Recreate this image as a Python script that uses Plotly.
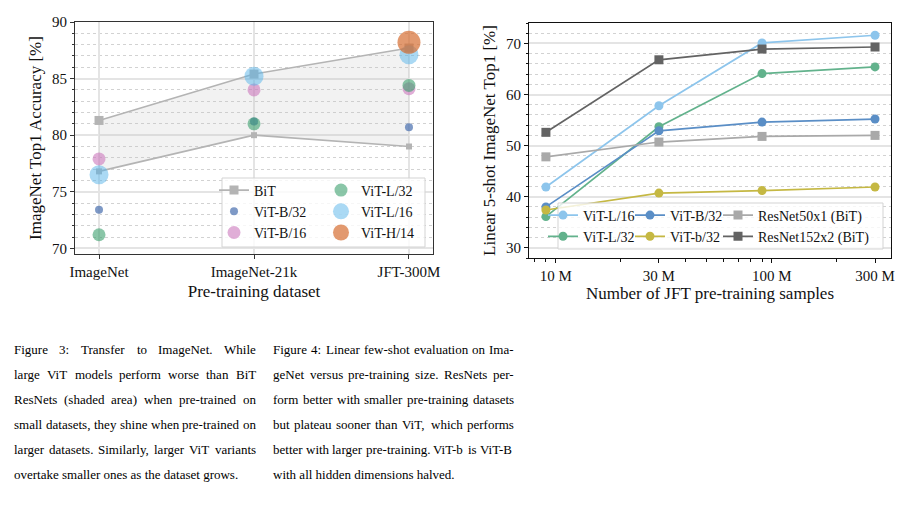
import plotly.graph_objects as go

# ---------------- Figure 3 data ----------------
datasets = ["ImageNet", "ImageNet-21k", "JFT-300M"]
bit_upper = [81.3, 85.4, 87.7]
bit_lower = [76.8, 80.0, 79.0]
vit_b32 = [73.4, 81.2, 80.7]
vit_b16 = [77.9, 84.0, 84.1]
vit_l32 = [71.2, 81.0, 84.4]
vit_l16 = [76.5, 85.2, 87.1]
h14_datasets = ["JFT-300M"]
vit_h14 = [88.2]
fig3_yticks = [70, 75, 80, 85, 90]

# ---------------- Figure 4 data ----------------
samples = [9e6, 30e6, 90e6, 300e6]
fs_vit_l16 = [41.9, 57.8, 70.1, 71.6]
fs_vit_l32 = [36.1, 53.7, 64.1, 65.4]
fs_vit_b32 = [38.0, 52.9, 54.6, 55.2]
fs_vit_b32_small = [37.4, 40.7, 41.2, 41.9]
fs_resnet50x1 = [47.8, 50.7, 51.8, 52.0]
fs_resnet152x2 = [52.6, 66.8, 68.9, 69.3]
fig4_xtick_vals = [1e7, 3e7, 1e8, 3e8]
fig4_xtick_text = ["10 M", "30 M", "100 M", "300 M"]
fig4_xminor = [8e6, 9e6, 2e7, 4e7, 5e7, 6e7, 7e7, 8e7, 9e7, 2e8]
fig4_yticks = [30, 40, 50, 60, 70]

caption3 = [
    "Figure 3:  Transfer to ImageNet.  While",
    "large ViT models perform worse than BiT",
    "ResNets (shaded area) when pre-trained on",
    "small datasets, they shine when pre-trained on",
    "larger datasets.  Similarly, larger ViT variants",
    "overtake smaller ones as the dataset grows.",
]
caption4 = [
    "Figure 4: Linear few-shot evaluation on Ima-",
    "geNet versus pre-training size.  ResNets per-",
    "form better with smaller pre-training datasets",
    "but plateau sooner than ViT, which performs",
    "better with larger pre-training. ViT-b is ViT-B",
    "with all hidden dimensions halved.",
]

W, H = 916, 507
OFF = 8  # page body margin in the browser
SERIF = "Liberation Serif, Times New Roman, serif"


def px(x):
    return (x - OFF) / W


def py(y):
    return 1 - (y - OFF) / H


fig = go.Figure()

# ---- left chart ----
fig.add_trace(go.Scatter(x=datasets, y=bit_lower, mode="lines", line=dict(width=0),
                         showlegend=False, hoverinfo="skip"))
fig.add_trace(go.Scatter(x=datasets, y=bit_upper, mode="lines", line=dict(width=0),
                         fill="tonexty", fillcolor="rgba(190,190,190,0.2)",
                         showlegend=False, hoverinfo="skip"))
bit_col = "#B4B4B4"
fig.add_trace(go.Scatter(x=datasets, y=bit_upper, mode="lines+markers", name="BiT",
                         line=dict(color=bit_col, width=1.6),
                         marker=dict(symbol="square", size=9, color=bit_col),
                         legend="legend"))
fig.add_trace(go.Scatter(x=datasets, y=bit_lower, mode="lines+markers", name="BiT",
                         line=dict(color=bit_col, width=1.6),
                         marker=dict(symbol="square", size=6, color=bit_col),
                         showlegend=False))

left_specs = [
    ("ViT-B/32", datasets, vit_b32, "rgba(76,114,176,0.72)", 8, "legend"),
    ("ViT-B/16", datasets, vit_b16, "rgba(204,120,188,0.6)", 13, "legend"),
    ("ViT-L/32", datasets, vit_l32, "rgba(60,160,110,0.6)", 13, "legend2"),
    ("ViT-L/16", datasets, vit_l16, "rgba(86,180,233,0.5)", 19, "legend2"),
    ("ViT-H/14", h14_datasets, vit_h14, "rgba(213,110,50,0.7)", 23, "legend2"),
]
for name, xs, ys, col, size, lg in left_specs:
    fig.add_trace(go.Scatter(x=xs, y=ys, mode="markers", name=name,
                             marker=dict(color=col, size=size, line=dict(width=0)),
                             legend=lg))

# ---- right chart ----
right_specs = [
    ("ViT-L/16", fs_vit_l16, "#8DC5EC", "circle", "legend3"),
    ("ViT-L/32", fs_vit_l32, "#62B28C", "circle", "legend3"),
    ("ViT-B/32", fs_vit_b32, "#5A8EC6", "circle", "legend4"),
    ("ViT-b/32", fs_vit_b32_small, "#C5B843", "circle", "legend4"),
    ("ResNet50x1 (BiT)", fs_resnet50x1, "#A9A9A9", "square", "legend5"),
    ("ResNet152x2 (BiT)", fs_resnet152x2, "#636363", "square", "legend5"),
]
for name, ys, col, sym, lg in right_specs:
    fig.add_trace(go.Scatter(x=samples, y=ys, mode="lines+markers", name=name,
                             line=dict(color=col, width=1.7),
                             marker=dict(symbol=sym, size=9, color=col),
                             xaxis="x2", yaxis="y2", legend=lg))

grid_major = "#E4E4E4"
grid_minor = "#D2D2D2"
tickfont = dict(family=SERIF, size=15, color="#111")
titlefont = dict(family=SERIF, size=17, color="#111")

fig.update_layout(
    template="none",
    width=W, height=H,
    margin=dict(l=0, r=0, t=0, b=0, pad=0, autoexpand=False),
    paper_bgcolor="white", plot_bgcolor="white",
    font=dict(family=SERIF, size=15, color="#111"),
    hovermode=False,
    xaxis=dict(domain=[px(75), px(433)], anchor="y", type="category", automargin=False,
               range=[-0.155, 2.155], showgrid=True, gridcolor=grid_major, gridwidth=1.5,
               showline=True, mirror=True, linecolor="#333", linewidth=1.2,
               ticks="outside", ticklen=4, tickcolor="#333", tickfont=tickfont,
               title=dict(text="Pre-training dataset", font=titlefont, standoff=6),
               zeroline=False),
    yaxis=dict(domain=[py(254), py(22)], anchor="x", range=[69.5, 90], automargin=False,
               tickvals=fig3_yticks, showgrid=True, gridcolor=grid_major, gridwidth=1.5,
               minor=dict(tick0=70, dtick=1, showgrid=True, gridcolor=grid_minor,
                          griddash="dot", gridwidth=1, ticks="outside", ticklen=2,
                          tickcolor="#333"),
               showline=True, mirror=True, linecolor="#333", linewidth=1.2,
               ticks="outside", ticklen=4, tickcolor="#333", tickfont=tickfont,
               title=dict(text="ImageNet Top1 Accuracy [%]", font=titlefont, standoff=5),
               zeroline=False),
    xaxis2=dict(domain=[px(529), px(891)], anchor="y2", type="log", automargin=False,
                range=[6.876, 8.551], tickvals=fig4_xtick_vals, ticktext=fig4_xtick_text,
                showgrid=False,
                minor=dict(tickvals=fig4_xminor, ticks="outside", ticklen=2.5,
                           tickcolor="#111", showgrid=False),
                showline=True, mirror=True, linecolor="#111", linewidth=1.2,
                ticks="outside", ticklen=4, tickcolor="#111", tickfont=tickfont,
                title=dict(text="Number of JFT pre-training samples", font=titlefont,
                           standoff=2),
                zeroline=False),
    yaxis2=dict(domain=[py(258), py(23)], anchor="x2", range=[28, 74], automargin=False,
                tickvals=fig4_yticks, showgrid=True, gridcolor=grid_major, gridwidth=1.5,
                minor=dict(tick0=0, dtick=2, showgrid=True, gridcolor=grid_minor,
                           griddash="dot", gridwidth=1, ticks="outside", ticklen=2,
                           tickcolor="#111"),
                showline=True, mirror=True, linecolor="#111", linewidth=1.2,
                ticks="outside", ticklen=4, tickcolor="#111", tickfont=tickfont,
                title=dict(text="Linear 5-shot ImageNet Top1 [%]", font=titlefont,
                           standoff=5),
                zeroline=False),
)

leg_common = dict(xanchor="left", yanchor="top", bgcolor="rgba(0,0,0,0)",
                  borderwidth=0, font=dict(family=SERIF, size=14, color="#111"),
                  itemwidth=30, tracegroupgap=0, orientation="v", traceorder="normal")
fig.update_layout(
    legend=dict(x=px(214), y=py(174.5), **leg_common),
    legend2=dict(x=px(321), y=py(174.5), **leg_common),
    legend3=dict(x=px(543), y=py(199.5), **leg_common),
    legend4=dict(x=px(630), y=py(199.5), **leg_common),
    legend5=dict(x=px(718), y=py(199.5), **leg_common),
)

# legend frames (matplotlib-style translucent boxes)
fig.add_shape(type="rect", xref="paper", yref="paper", x0=px(222), x1=px(425),
              y0=py(247), y1=py(178), line=dict(color="#D3D3D3", width=1),
              fillcolor="rgba(255,255,255,0.8)", layer="above")
fig.add_shape(type="rect", xref="paper", yref="paper", x0=px(558), x1=px(883),
              y0=py(249), y1=py(203), line=dict(color="#D3D3D3", width=1),
              fillcolor="rgba(255,255,255,0.8)", layer="above")
# scrollbar-like artifact at right edge
fig.add_shape(type="rect", xref="paper", yref="paper", x0=px(912), x1=px(917),
              y0=py(68), y1=py(48), line=dict(width=0), fillcolor="#7A7A7A",
              layer="above")

# ---------------- captions (justified, Times metrics) ----------------
TIMES = {' ': 250, 'a': 444, 'b': 500, 'c': 444, 'd': 500, 'e': 444, 'f': 333, 'g': 500,
         'h': 500, 'i': 278, 'j': 278, 'k': 500, 'l': 278, 'm': 778, 'n': 500, 'o': 500,
         'p': 500, 'q': 500, 'r': 333, 's': 389, 't': 278, 'u': 500, 'v': 500, 'w': 722,
         'x': 500, 'y': 500, 'z': 444, 'A': 722, 'B': 667, 'C': 667, 'D': 722, 'E': 611,
         'F': 556, 'G': 722, 'H': 722, 'I': 333, 'J': 389, 'K': 722, 'L': 611, 'M': 889,
         'N': 722, 'O': 722, 'P': 556, 'Q': 722, 'R': 667, 'S': 556, 'T': 611, 'U': 722,
         'V': 722, 'W': 944, 'X': 722, 'Y': 722, 'Z': 611, '.': 250, ',': 250, ':': 278,
         '-': 333, '(': 333, ')': 333, '/': 278}


def text_width(s, size):
    return sum(TIMES.get(ch, 500) for ch in s) * size / 1000.0


CAP_SIZE = 13


def add_caption(lines, x0, x1, y0, dy):
    for i, line in enumerate(lines):
        y = y0 + i * dy
        common = dict(xref="paper", yref="paper", y=py(y), xanchor="left",
                      yanchor="middle", showarrow=False, borderpad=0, borderwidth=0,
                      font=dict(family=SERIF, size=CAP_SIZE, color="#000"))
        if i == len(lines) - 1:
            fig.add_annotation(text=line, x=px(x0), **common)
            continue
        words = line.split()
        widths = [text_width(w, CAP_SIZE) for w in words]
        gap = (x1 - x0 - sum(widths)) / (len(words) - 1)
        x = x0
        for w, ww in zip(words, widths):
            fig.add_annotation(text=w, x=px(x), **common)
            x += ww + gap


add_caption(caption3, 14, 256, 349, 25)
add_caption(caption4, 273, 514, 349, 25)

fig.write_html("out.html")
